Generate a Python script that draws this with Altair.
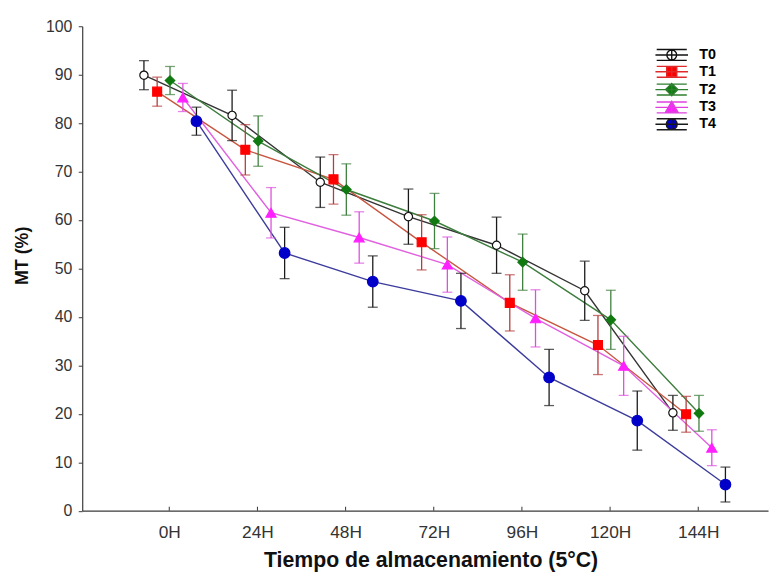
import altair as alt
import pandas as pd

# ---------------- data ----------------
hours = [0, 24, 48, 72, 96, 120, 144]
series = ["T0", "T1", "T2", "T3", "T4"]

mt_T0 = [89.9, 81.6, 67.8, 60.7, 54.8, 45.4, 20.2]
mt_T1 = [86.5, 74.5, 68.4, 55.4, 42.9, 34.2, 19.9]
mt_T2 = [88.8, 76.3, 66.3, 59.8, 51.3, 39.4, 20.1]
mt_T3 = [85.3, 61.5, 56.4, 50.8, 39.7, 29.9, 13.0]
mt_T4 = [80.4, 53.2, 47.3, 43.3, 27.5, 18.6, 5.4]

err_T0 = [3.0, 5.2, 5.2, 5.7, 5.8, 6.1, 3.6]
err_T1 = [3.0, 5.2, 5.1, 5.7, 5.8, 6.1, 3.7]
err_T2 = [2.9, 5.2, 5.3, 5.7, 5.8, 6.1, 3.7]
err_T3 = [2.9, 5.2, 5.3, 5.7, 5.9, 6.1, 3.7]
err_T4 = [2.9, 5.3, 5.3, 5.7, 5.8, 6.1, 3.6]

means = {"T0": mt_T0, "T1": mt_T1, "T2": mt_T2, "T3": mt_T3, "T4": mt_T4}
errs = {"T0": err_T0, "T1": err_T1, "T2": err_T2, "T3": err_T3, "T4": err_T4}

# ---------------- styling ----------------
dodge = {"T0": -6.9, "T1": -3.3, "T2": 0.2, "T3": 3.7, "T4": 7.4}  # horizontal offset (hours units)
line_colors = ["#333333", "#c8553f", "#3d7d3d", "#e060e0", "#3c3c9c"]
err_colors = ["#1a1a1a", "#b43c3c", "#3f7f3f", "#dd50dd", "#1a1a1a"]
fill_colors = ["#ffffff", "#ff0000", "#107a10", "#ff20ff", "#0000c8"]
pt_strokes = ["#111111", "#ff0000", "#107a10", "#ff20ff", "#0000c8"]
pt_shapes = ["circle", "square", "diamond", "triangle-up", "circle"]
pt_sizes = [70, 115, 110, 100, 100]

# legend symbol paths (unit = sqrt(200)/2 = 7.07 px)
base_leg = "M-2.33,0H2.33M-2.15,-0.78H2.15M-2.15,0.78H2.15M0,-0.78V0.78"
leg_marks = [
    "M0.7,0A0.7,0.7 0 1,1 -0.7,0A0.7,0.7 0 1,1 0.7,0Z",
    "M-0.72,-0.72H0.72V0.72H-0.72Z",
    "M0,-0.88L0.88,0L0,0.88L-0.88,0Z",
    "M0,-0.85L0.88,0.66H-0.88Z",
    "M0.78,0A0.78,0.78 0 1,1 -0.78,0A0.78,0.78 0 1,1 0.78,0Z",
]
leg_paths = [base_leg + m for m in leg_marks]
leg_fills = ["#ffffff", "#ff0000", "#107a10", "#ff20ff", "#0000c8"]
leg_strokes = ["#111111", "#e02a2a", "#2f7f2f", "#e040e0", "#1a1a1a"]

rows = []
for s in series:
    for i, h in enumerate(hours):
        m = means[s][i]
        e = errs[s][i]
        rows.append({"series": s, "hour": h, "xpos": h + dodge[s],
                     "mean": m, "lo": m - e, "hi": m + e})
df = pd.DataFrame(rows)
ticks_df = pd.DataFrame({"hour": hours})

W, H = 693, 489.5
FONT = "Liberation Sans"

xscale = alt.Scale(domain=[-23.7, 163.0], nice=False, zero=False)
yscale = alt.Scale(domain=[0, 100], nice=False)

xaxis = alt.Axis(values=hours, labelExpr="datum.value + 'H'", grid=False, ticks=False,
                 tickSize=0, labelPadding=27.5, labelBaseline="alphabetic",
                 labelFontSize=17.5, labelColor="#333333", labelFont=FONT,
                 domainColor="#3a3a3a", domainWidth=1.2,
                 titleFontSize=21.5, titleFontWeight="bold", titleFont=FONT,
                 titleColor="#111111", titleBaseline="alphabetic", titleY=56,
                 titleX=352)
yaxis = alt.Axis(values=list(range(0, 101, 10)), grid=False, tickSize=4,
                 tickColor="#3a3a3a", labelPadding=6.5, labelFontSize=16,
                 labelColor="#333333", labelFont=FONT, domainColor="#3a3a3a",
                 domainWidth=1.2, titleFontSize=18, titleFontWeight="bold",
                 titleFont=FONT, titleColor="#111111", titleBaseline="middle",
                 titleX=-60.5, titleY=231.5, titleAngle=270)

XT = "Tiempo de almacenamiento (5°C)"
YT = "MT (%)"

def sc(rng):
    return alt.Scale(domain=series, range=rng)

base = alt.Chart(df)

tick_layer = alt.Chart(ticks_df).mark_rule(color="#333333", strokeWidth=1).encode(
    x=alt.X("hour:Q", scale=xscale, axis=xaxis, title=XT),
    y=alt.value(H), y2=alt.value(H - 4))

lines = base.mark_line(strokeWidth=1.4).encode(
    x=alt.X("xpos:Q", scale=xscale, axis=xaxis, title=XT),
    y=alt.Y("mean:Q", scale=yscale, axis=yaxis, title=YT),
    stroke=alt.Stroke("series:N", scale=sc(line_colors), legend=None),
    order="hour:Q")

err_rules = base.mark_rule(strokeWidth=1.3).encode(
    x=alt.X("xpos:Q", scale=xscale, axis=xaxis, title=XT),
    y=alt.Y("lo:Q", scale=yscale, axis=yaxis, title=YT),
    y2="hi:Q",
    color=alt.Color("series:N", scale=sc(err_colors), legend=None))

cap_lo = base.mark_tick(orient="horizontal", size=10, thickness=1.3).encode(
    x=alt.X("xpos:Q", scale=xscale, axis=xaxis, title=XT),
    y=alt.Y("lo:Q", scale=yscale, axis=yaxis, title=YT),
    color=alt.Color("series:N", scale=sc(err_colors), legend=None))

cap_hi = base.mark_tick(orient="horizontal", size=10, thickness=1.3).encode(
    x=alt.X("xpos:Q", scale=xscale, axis=xaxis, title=XT),
    y=alt.Y("hi:Q", scale=yscale, axis=yaxis, title=YT),
    color=alt.Color("series:N", scale=sc(err_colors), legend=None))

points = base.mark_point(filled=True, opacity=1, strokeWidth=1.2).encode(
    x=alt.X("xpos:Q", scale=xscale, axis=xaxis, title=XT),
    y=alt.Y("mean:Q", scale=yscale, axis=yaxis, title=YT),
    shape=alt.Shape("series:N", scale=sc(pt_shapes), legend=None),
    fill=alt.Fill("series:N", scale=sc(fill_colors), legend=None),
    stroke=alt.Stroke("series:N", scale=sc(pt_strokes), legend=None),
    size=alt.Size("series:N", scale=sc(pt_sizes), legend=None))

legend_layer = base.transform_filter("false").mark_point(
    filled=True, opacity=1, size=200, strokeWidth=1.4).encode(
    x=alt.X("xpos:Q", scale=xscale, axis=xaxis, title=XT),
    y=alt.Y("mean:Q", scale=yscale, axis=yaxis, title=YT),
    shape=alt.Shape("series:N", scale=sc(leg_paths), legend=alt.Legend(title=None)),
    fill=alt.Fill("series:N", scale=sc(leg_fills), legend=alt.Legend(title=None)),
    stroke=alt.Stroke("series:N", scale=sc(leg_strokes), legend=alt.Legend(title=None)))

chart = alt.layer(tick_layer, lines, err_rules, cap_lo, cap_hi, points, legend_layer).resolve_scale(
    stroke="independent", fill="independent", shape="independent",
    color="independent", size="independent"
).properties(
    width=W, height=H,
    autosize=alt.AutoSizeParams(type="none"),
    padding={"left": 75, "top": 15.5, "right": 3, "bottom": 59},
    background="white",
).configure_view(stroke=None).configure_legend(
    orient="none", legendX=587.7, legendY=21, padding=0, rowPadding=-1,
    symbolSize=200, symbolStrokeWidth=1.4, symbolOpacity=1,
    labelFontSize=14.5, labelFontWeight="bold", labelColor="#000000",
    labelFont=FONT, labelOffset=19.7,
)

chart.save("out.html", embed_options={"renderer": "svg", "actions": False})
